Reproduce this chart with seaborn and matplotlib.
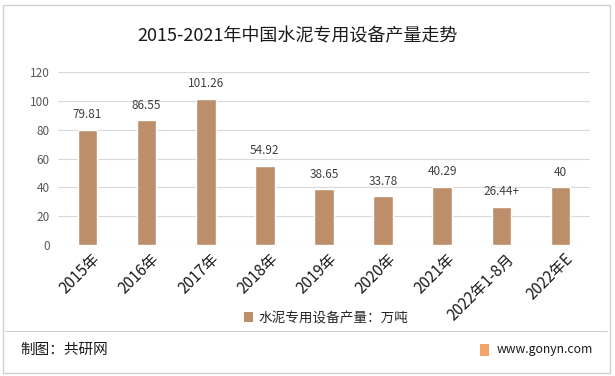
import matplotlib
matplotlib.use('Agg')
import matplotlib.pyplot as plt
import matplotlib.transforms as mtrans
import seaborn as sns
import pandas as pd
from matplotlib.patches import Rectangle, Patch
from matplotlib.lines import Line2D

# ========== 数据 ==========
categories = ['2015年', '2016年', '2017年', '2018年', '2019年', '2020年', '2021年', '2022年1-8月', '2022年E']
values = [79.81, 86.55, 101.26, 54.92, 38.65, 33.78, 40.29, 26.44, 40]
value_labels = ['79.81', '86.55', '101.26', '54.92', '38.65', '33.78', '40.29', '26.44+', '40']
series_name = '水泥专用设备产量：万吨'
title = '2015-2021年中国水泥专用设备产量走势'
yticks = [0, 20, 40, 60, 80, 100, 120]

bar_color = '#BC8E6A'

sns.set_theme(style='white')
plt.rcParams['font.family'] = ['Noto Sans CJK SC', 'DejaVu Sans']
plt.rcParams['axes.unicode_minus'] = False

df = pd.DataFrame({'cat': categories, 'val': values})

fig = plt.figure(figsize=(6.15, 3.76), dpi=100)
ax = fig.add_axes([58 / 615, 1 - 245 / 376, 532 / 615, 173 / 376])

sns.barplot(data=df, x='cat', y='val', color=bar_color, width=0.33, ax=ax, saturation=1)

ax.set_ylim(0, 120)
ax.set_yticks(yticks)
ax.set_yticklabels([str(t) for t in yticks], fontsize=8.5, color='#595959')
ax.grid(axis='y', color='#D9D9D9', linewidth=0.8)
ax.set_axisbelow(True)
for s in ax.spines.values():
    s.set_visible(False)
ax.set_xlabel('')
ax.set_ylabel('')
ax.tick_params(axis='both', length=0, pad=6)
ax.set_xticks(range(len(categories)))
ax.set_xticklabels(categories, rotation=45, ha='right', rotation_mode='anchor',
                   fontsize=11, color='#1a1a1a')
ax.tick_params(axis='x', pad=4)
shift = mtrans.ScaledTranslation(4 / 100, 0, fig.dpi_scale_trans)
for lab in ax.get_xticklabels():
    lab.set_transform(lab.get_transform() + shift)

for i, (v, lab) in enumerate(zip(values, value_labels)):
    ax.text(i, v + 6, lab, ha='center', va='bottom', fontsize=8.5, color='#404040')

# 图例
handle = Patch(facecolor=bar_color, edgecolor='none')
fig.legend([handle], [series_name], loc='center', bbox_to_anchor=(326 / 615, 1 - 318 / 376),
           frameon=False, fontsize=9.8, handlelength=0.7, handleheight=0.7, handletextpad=0.4)

# 标题
fig.text(298 / 615, 1 - 36 / 376, title, ha='center', va='center', fontsize=13, color='#1a1a1a')

# 外框与分隔线
fig.add_artist(Rectangle((3 / 615, 3 / 376), 607 / 615, 368 / 376, transform=fig.transFigure,
                         fill=False, edgecolor='#D0D0D0', linewidth=1))
fig.add_artist(Line2D([5 / 615, 607 / 615], [1 - 331 / 376, 1 - 331 / 376],
                      transform=fig.transFigure, color='#D0D0D0', linewidth=0.8))

# 底部说明
fig.text(20 / 615, 1 - 350 / 376, '制图：共研网', ha='left', va='center', fontsize=10.5, color='#1a1a1a')
fig.add_artist(Rectangle((480 / 615, 1 - 356 / 376), 9 / 615, 12 / 376, transform=fig.transFigure,
                         facecolor='#F4A46A', edgecolor='none'))
fig.text(497 / 615, 1 - 350 / 376, 'www.gonyn.com', ha='left', va='center', fontsize=8.8, color='#1a1a1a')

fig.savefig('out.png', dpi=100)
